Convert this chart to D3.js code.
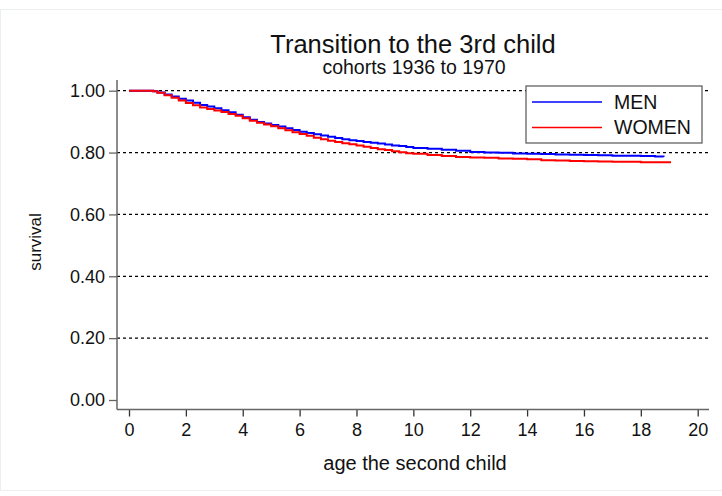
<!DOCTYPE html>
<html>
<head>
<meta charset="utf-8">
<script src="https://cdn.jsdelivr.net/npm/d3@7"></script>
<style>
  html, body { margin: 0; padding: 0; background: #fff; }
  svg { display: block; }
  text { font-family: "Liberation Sans", Arial, sans-serif; fill: #111; }
</style>
</head>
<body>
<svg id="chart" width="722" height="496"></svg>
<script>
// ---- Data ----
const title = "Transition to the 3rd child";
const subtitle = "cohorts 1936 to 1970";
const xLabel = "age the second child";
const yLabel = "survival";
const xTicks = [0, 2, 4, 6, 8, 10, 12, 14, 16, 18, 20];
const yTicks = [0, 0.2, 0.4, 0.6, 0.8, 1.0];
const gridTicks = [0.2, 0.4, 0.6, 0.8, 1.0];
const seriesNames = ["MEN", "WOMEN"];
const seriesColors = ["#0000ff", "#ff0000"];

const menTime = [0, 0.85, 1.0, 1.25, 1.5, 1.75, 2.0, 2.25, 2.5, 2.75, 3.0, 3.25, 3.5, 3.75, 4.0, 4.25, 4.5, 4.75, 5.0, 5.25, 5.5, 5.75, 6.0, 6.25, 6.5, 6.75, 7.0, 7.25, 7.5, 7.75, 8.0, 8.25, 8.5, 8.75, 9.0, 9.25, 9.5, 9.75, 10.0, 10.5, 11.0, 11.5, 12.0, 12.5, 13.0, 13.5, 14.0, 14.5, 15.0, 15.5, 16.0, 16.5, 17.0, 17.5, 18.0, 18.5, 18.8];
const menSurv = [1.000, 0.998, 0.994, 0.988, 0.981, 0.974, 0.968, 0.961, 0.954, 0.949, 0.943, 0.937, 0.930, 0.922, 0.914, 0.906, 0.899, 0.894, 0.889, 0.884, 0.879, 0.873, 0.867, 0.863, 0.859, 0.855, 0.851, 0.847, 0.843, 0.840, 0.837, 0.834, 0.832, 0.829, 0.826, 0.823, 0.821, 0.818, 0.815, 0.812, 0.809, 0.806, 0.802, 0.800, 0.799, 0.797, 0.796, 0.795, 0.794, 0.793, 0.792, 0.791, 0.790, 0.790, 0.789, 0.787, 0.786];

const womenTime = [0, 0.85, 1.0, 1.25, 1.5, 1.75, 2.0, 2.25, 2.5, 2.75, 3.0, 3.25, 3.5, 3.75, 4.0, 4.25, 4.5, 4.75, 5.0, 5.25, 5.5, 5.75, 6.0, 6.25, 6.5, 6.75, 7.0, 7.25, 7.5, 7.75, 8.0, 8.25, 8.5, 8.75, 9.0, 9.25, 9.5, 9.75, 10.0, 10.5, 11.0, 11.5, 12.0, 12.5, 13.0, 13.5, 14.0, 14.5, 15.0, 15.5, 16.0, 16.5, 17.0, 17.5, 18.0, 18.5, 19.06];
const womenSurv = [1.000, 0.998, 0.993, 0.985, 0.977, 0.968, 0.960, 0.953, 0.946, 0.941, 0.936, 0.931, 0.925, 0.919, 0.911, 0.903, 0.896, 0.891, 0.885, 0.879, 0.872, 0.866, 0.860, 0.854, 0.848, 0.843, 0.838, 0.834, 0.830, 0.827, 0.823, 0.819, 0.815, 0.811, 0.808, 0.804, 0.801, 0.798, 0.796, 0.792, 0.789, 0.786, 0.784, 0.783, 0.781, 0.780, 0.778, 0.775, 0.774, 0.773, 0.772, 0.771, 0.770, 0.770, 0.769, 0.769, 0.769];

// ---- Layout ----
const svg = d3.select("#chart");
const axisX0 = 117, axisX1 = 709, axisYTop = 80, axisYBottom = 409.5;
const x = d3.scaleLinear().domain([0, 20]).range([129, 697.7]);
const y = d3.scaleLinear().domain([0, 1]).range([400, 90.7]);
const axisColor = "#666";
const font = '"Liberation Sans", Arial, sans-serif';

// outer frame
svg.append("rect").attr("x", 0.5).attr("y", 9.5).attr("width", 740).attr("height", 481)
  .attr("fill", "none").attr("stroke", "#eceff0").attr("stroke-width", 1);

// titles
svg.append("text").attr("x", 413).attr("y", 53).attr("text-anchor", "middle")
  .style("font-size", "25.5px").text(title);
svg.append("text").attr("x", 414).attr("y", 74).attr("text-anchor", "middle")
  .style("font-size", "19.5px").text(subtitle);

// gridlines
svg.append("g").selectAll("line").data(gridTicks).join("line")
  .attr("x1", axisX0).attr("x2", axisX1)
  .attr("y1", d => y(d)).attr("y2", d => y(d))
  .attr("stroke", "#000").attr("stroke-width", 1.2).attr("stroke-dasharray", "3,3");

// curves
const line = d3.line().x(d => x(d[0])).y(d => y(d[1])).curve(d3.curveStepAfter);
const series = [d3.zip(menTime, menSurv), d3.zip(womenTime, womenSurv)];
svg.append("g").selectAll("path").data(series).join("path")
  .attr("d", line).attr("fill", "none")
  .attr("stroke", (d, i) => seriesColors[i]).attr("stroke-width", 2);

// y axis
const yAxis = d3.axisLeft(y).tickValues(yTicks).tickFormat(d3.format(".2f")).tickSize(8).tickPadding(4);
const gy = svg.append("g").attr("transform", `translate(${axisX0},0)`).call(yAxis);
gy.select(".domain").remove();
gy.selectAll(".tick line").attr("stroke", axisColor).attr("stroke-width", 1.3);
gy.selectAll(".tick text").style("font-size", "18px").style("font-family", font).attr("fill", "#111");
svg.append("line").attr("x1", axisX0).attr("x2", axisX0).attr("y1", axisYTop).attr("y2", axisYBottom)
  .attr("stroke", axisColor).attr("stroke-width", 1.5);

// x axis
const xAxis = d3.axisBottom(x).tickValues(xTicks).tickSize(7).tickPadding(7);
const gx = svg.append("g").attr("transform", `translate(0,${axisYBottom})`).call(xAxis);
gx.select(".domain").remove();
gx.selectAll(".tick line").attr("stroke", "#333").attr("stroke-width", 1.3);
gx.selectAll(".tick text").style("font-size", "18px").style("font-family", font).attr("fill", "#111");
svg.append("line").attr("x1", axisX0).attr("x2", axisX1).attr("y1", axisYBottom).attr("y2", axisYBottom)
  .attr("stroke", axisColor).attr("stroke-width", 1.5);

// axis titles
svg.append("text").attr("x", 415).attr("y", 470).attr("text-anchor", "middle")
  .style("font-size", "20px").text(xLabel);
svg.append("text").attr("transform", "translate(41,242) rotate(-90)").attr("text-anchor", "middle")
  .style("font-size", "17px").text(yLabel);

// legend
const lg = svg.append("g");
lg.append("rect").attr("x", 526).attr("y", 86).attr("width", 176).attr("height", 57)
  .attr("fill", "#fff").attr("stroke", "#555").attr("stroke-width", 1.2);
const legendY = [102, 127.5];
seriesNames.forEach((n, i) => {
  lg.append("line").attr("x1", 532).attr("x2", 602).attr("y1", legendY[i]).attr("y2", legendY[i])
    .attr("stroke", seriesColors[i]).attr("stroke-width", 1.5);
  lg.append("text").attr("x", 614).attr("y", legendY[i]).attr("dy", "0.35em")
    .style("font-size", "19.5px").text(n);
});
</script>
</body>
</html>
